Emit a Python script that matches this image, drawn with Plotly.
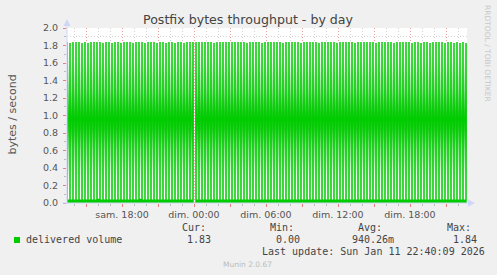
import plotly.graph_objects as go
import pandas as pd

# ---------------- data ----------------
TITLE = "Postfix bytes throughput - by day"
Y_LABEL = "bytes / second"
SERIES_NAME = "delivered volume"
SERIES_COLOR = "#00cc00"
SAMPLE_START = "2026-01-10 13:21:15"
SAMPLE_STEP = "450s"

delivered_volume = [
    1.84, 0.04, 1.83, 0.04, 1.84, 0.04, 1.84, 0.04, 1.84, 0.04, 1.83, 0.04, 1.84, 0.04, 1.83, 0.04, 1.84, 0.04, 1.84, 0.04,
    1.84, 0.05, 1.84, 0.04, 1.83, 0.04, 1.84, 0.04, 1.84, 0.04, 1.83, 0.04, 1.84, 0.04, 1.84, 0.04, 1.83, 0.04, 1.84, 0.04,
    1.84, 0.04, 1.84, 0.04, 1.83, 0.04, 1.84, 0.04, 1.84, 0.05, 1.84, 0.04, 1.83, 0.04, 1.84, 0.04, 1.84, 0.04, 1.84, 0.04,
    1.83, 0.04, 1.84, 0.04, 1.84, 0.04, 1.83, 0.04, 1.84, 0.04, 1.84, 0.04, 1.83, 0.04, 1.84, 0.04, 1.84, 0.04, 1.83, 0.04,
    1.84, 0.04, 1.84, 0.04, 1.84, 0.00, 1.84, 0.04, 1.84, 0.04, 1.84, 0.04, 1.84, 0.04, 1.84, 0.04, 1.84, 0.04, 1.83, 0.04,
    1.84, 0.04, 1.84, 0.04, 1.84, 0.04, 1.84, 0.04, 1.84, 0.04, 1.84, 0.04, 1.84, 0.04, 1.84, 0.04, 1.84, 0.04, 1.84, 0.04,
    1.83, 0.04, 1.84, 0.04, 1.84, 0.04, 1.84, 0.04, 1.84, 0.04, 1.83, 0.04, 1.84, 0.04, 1.84, 0.04, 1.84, 0.04, 1.84, 0.04,
    1.84, 0.04, 1.84, 0.04, 1.83, 0.04, 1.84, 0.04, 1.84, 0.04, 1.84, 0.04, 1.84, 0.04, 1.84, 0.04, 1.83, 0.04, 1.84, 0.04,
    1.84, 0.04, 1.84, 0.04, 1.84, 0.04, 1.84, 0.04, 1.83, 0.04, 1.84, 0.04, 1.84, 0.04, 1.84, 0.04, 1.84, 0.04, 1.84, 0.04,
    1.83, 0.04, 1.84, 0.04, 1.84, 0.04, 1.84, 0.04, 1.84, 0.04, 1.84, 0.04, 1.83, 0.04, 1.84, 0.04, 1.84, 0.04, 1.84, 0.04,
    1.84, 0.04, 1.84, 0.04, 1.84, 0.04, 1.83, 0.04, 1.84, 0.04, 1.84, 0.04, 1.84, 0.04, 1.84, 0.04, 1.84, 0.04, 1.83, 0.04,
    1.84, 0.04, 1.84, 0.04, 1.84, 0.04, 1.84, 0.04, 1.84, 0.04, 1.83, 0.04, 1.84, 0.04, 1.84, 0.04, 1.83, 0.04, 1.84, 0.04,
    1.84, 0.04, 1.83, 0.04, 1.84, 0.04, 1.84, 0.04, 1.84, 0.04, 1.84, 0.04, 1.83, 0.04, 1.84, 0.04, 1.84, 0.04, 1.83, 0.04,
    1.84, 0.04, 1.83, 0.04, 1.84, 0.04, 1.83, 0.04,
]

x_range = ["2026-01-10 13:25:00", "2026-01-11 22:45:00"]
x_tick_times = [
    "2026-01-10 15:00", "2026-01-10 18:00", "2026-01-10 21:00", "2026-01-11 00:00",
    "2026-01-11 03:00", "2026-01-11 06:00", "2026-01-11 09:00", "2026-01-11 12:00",
    "2026-01-11 15:00", "2026-01-11 18:00", "2026-01-11 21:00",
]
x_tick_labels = ["", "sam. 18:00", "", "dim. 00:00", "", "dim. 06:00", "",
                 "dim. 12:00", "", "dim. 18:00", ""]
y_tick_values = [0.0, 0.2, 0.4, 0.6, 0.8, 1.0, 1.2, 1.4, 1.6, 1.8, 2.0]
y_tick_labels = ["0.0", "0.2", "0.4", "0.6", "0.8", "1.0", "1.2", "1.4", "1.6", "1.8", "2.0"]

stat_headers = ["Cur:", "Min:", "Avg:", "Max:"]
stat_values = ["1.83", "0.00", "940.26m", "1.84"]
LAST_UPDATE = "Last update: Sun Jan 11 22:40:09 2026"
FOOTER = "Munin 2.0.67"
SIDE_TEXT = "RRDTOOL / TOBI OETIKER"

# ---------------- geometry / style ----------------
W, H = 497, 275
L, T, PW, PH = 67, 28, 400, 175
BG = "#f0f0f0"
AXIS_COL = "#cfd6f8"
MGRID = "#eea0a0"
GRID = "#d4d4d4"
FONT = "DejaVu Sans"
MONO = "DejaVu Sans Mono"


def px(x):
    return (x - L) / PW


def py(y):
    return (T + PH - y) / PH


times = pd.date_range(SAMPLE_START, periods=len(delivered_volume), freq=SAMPLE_STEP)
ENVELOPE_TOP = max(delivered_volume)
envelope = [ENVELOPE_TOP if v > 0 else 0.0 for v in delivered_volume]

fig = go.Figure()
# pale gradient that shows between the spikes
fig.add_trace(go.Scatter(
    x=times, y=envelope, mode="lines", line=dict(width=0, shape="hv"),
    fill="tozeroy",
    fillgradient=dict(
        type="vertical", start=0, stop=ENVELOPE_TOP,
        colorscale=[
            [0.0, "#ffffff"], [0.03, "#ffffff"], [0.17, "#e4f7e4"],
            [0.33, "#8fe28f"], [0.46, "#22cf22"], [0.52, "#00cc00"],
            [0.57, "#22cf22"], [0.71, "#8fe28f"], [0.87, "#e4f7e4"],
            [1.0, "#ffffff"],
        ],
    ),
    hoverinfo="skip", showlegend=False,
))
fig.add_trace(go.Scatter(
    x=times, y=delivered_volume, mode="lines", name=SERIES_NAME,
    line=dict(width=0, shape="hv", color=SERIES_COLOR),
    fill="tozeroy", fillcolor=SERIES_COLOR, showlegend=False,
))

fig.update_layout(
    width=W, height=H,
    margin=dict(l=L, r=W - L - PW, t=T, b=H - T - PH, pad=0),
    paper_bgcolor=BG, plot_bgcolor="#ffffff",
    showlegend=False,
    font=dict(family=FONT, size=9.5, color="#555555"),
)
fig.update_xaxes(
    type="date", range=x_range,
    tickmode="array", tickvals=x_tick_times, ticktext=x_tick_labels,
    showgrid=True, gridcolor=MGRID, griddash="1px,2px", gridwidth=1,
    ticks="outside", ticklen=3, tickcolor="#e88080", tickwidth=1,
    tickfont=dict(family=FONT, size=9.5, color="#555555"),
    minor=dict(tickmode="linear", tick0="2026-01-10 00:00", dtick=3600000,
               showgrid=True, gridcolor=GRID, griddash="1px,2px",
               ticks="outside", ticklen=2, tickcolor="#bbbbbb"),
    showline=False, zeroline=False, fixedrange=True,
)
fig.update_yaxes(
    range=[0, 2.0],
    tickmode="array", tickvals=y_tick_values, ticktext=y_tick_labels,
    showgrid=True, gridcolor=MGRID, griddash="1px,2px", gridwidth=1,
    ticks="outside", ticklen=3, tickcolor="#e88080", tickwidth=1,
    ticklabelstandoff=3,
    tickfont=dict(family=FONT, size=9.5, color="#555555"),
    minor=dict(tickmode="linear", tick0=0, dtick=0.1,
               showgrid=True, gridcolor=GRID, griddash="1px,2px",
               ticks="outside", ticklen=2, tickcolor="#bbbbbb"),
    showline=False, zeroline=False, fixedrange=True,
)

shapes = [
    # y axis line + arrow
    dict(type="line", xref="paper", yref="paper", x0=0, x1=0, y0=py(204), y1=py(24),
         line=dict(color=AXIS_COL, width=1)),
    dict(type="path", xref="paper", yref="paper",
         path=f"M {px(63.5)} {py(26)} L {px(70.5)} {py(26)} L {px(67)} {py(19)} Z",
         fillcolor=AXIS_COL, line=dict(width=0)),
    # x axis line + arrow
    dict(type="line", xref="paper", yref="paper", x0=px(63), x1=px(469), y0=0, y1=0,
         line=dict(color=AXIS_COL, width=1)),
    dict(type="path", xref="paper", yref="paper",
         path=f"M {px(468)} {py(199.5)} L {px(468)} {py(206.5)} L {px(475)} {py(203)} Z",
         fillcolor=AXIS_COL, line=dict(width=0)),
    # legend swatch
    dict(type="rect", xref="paper", yref="paper", x0=px(14), x1=px(20), y0=py(243), y1=py(237),
         fillcolor=SERIES_COLOR, line=dict(width=0)),
]
fig.update_layout(shapes=shapes)


def note(text, x, y, size, color, family=FONT, xanchor="left", angle=0):
    fig.add_annotation(
        text=text, x=px(x), y=py(y), xref="paper", yref="paper",
        xanchor=xanchor, yanchor="middle", showarrow=False,
        textangle=angle, borderpad=0, borderwidth=0,
        font=dict(family=family, size=size, color=color),
    )


note(TITLE, 248.5, 19.5, 12.6, "#444444", xanchor="center")
note(Y_LABEL, 11.5, 114, 11, "#555555", xanchor="center", angle=-90)
note(SIDE_TEXT, 488, 53, 7.5, "#c8c8c8", xanchor="center", angle=90)
note(FOOTER, 247.5, 264, 7.5, "#bbbbbb", xanchor="center")

note(SERIES_NAME, 26, 239.7, 10, "#444444", family=MONO)
for hx, vx, htxt, vtxt in zip([182, 270, 358, 447], [187, 276, 352, 453], stat_headers, stat_values):
    note(htxt, hx, 227.7, 10, "#444444", family=MONO)
    note(vtxt, vx, 239.7, 10, "#444444", family=MONO)
note(LAST_UPDATE, 262, 251.7, 10, "#444444", family=MONO)

fig.write_html("out.html")
